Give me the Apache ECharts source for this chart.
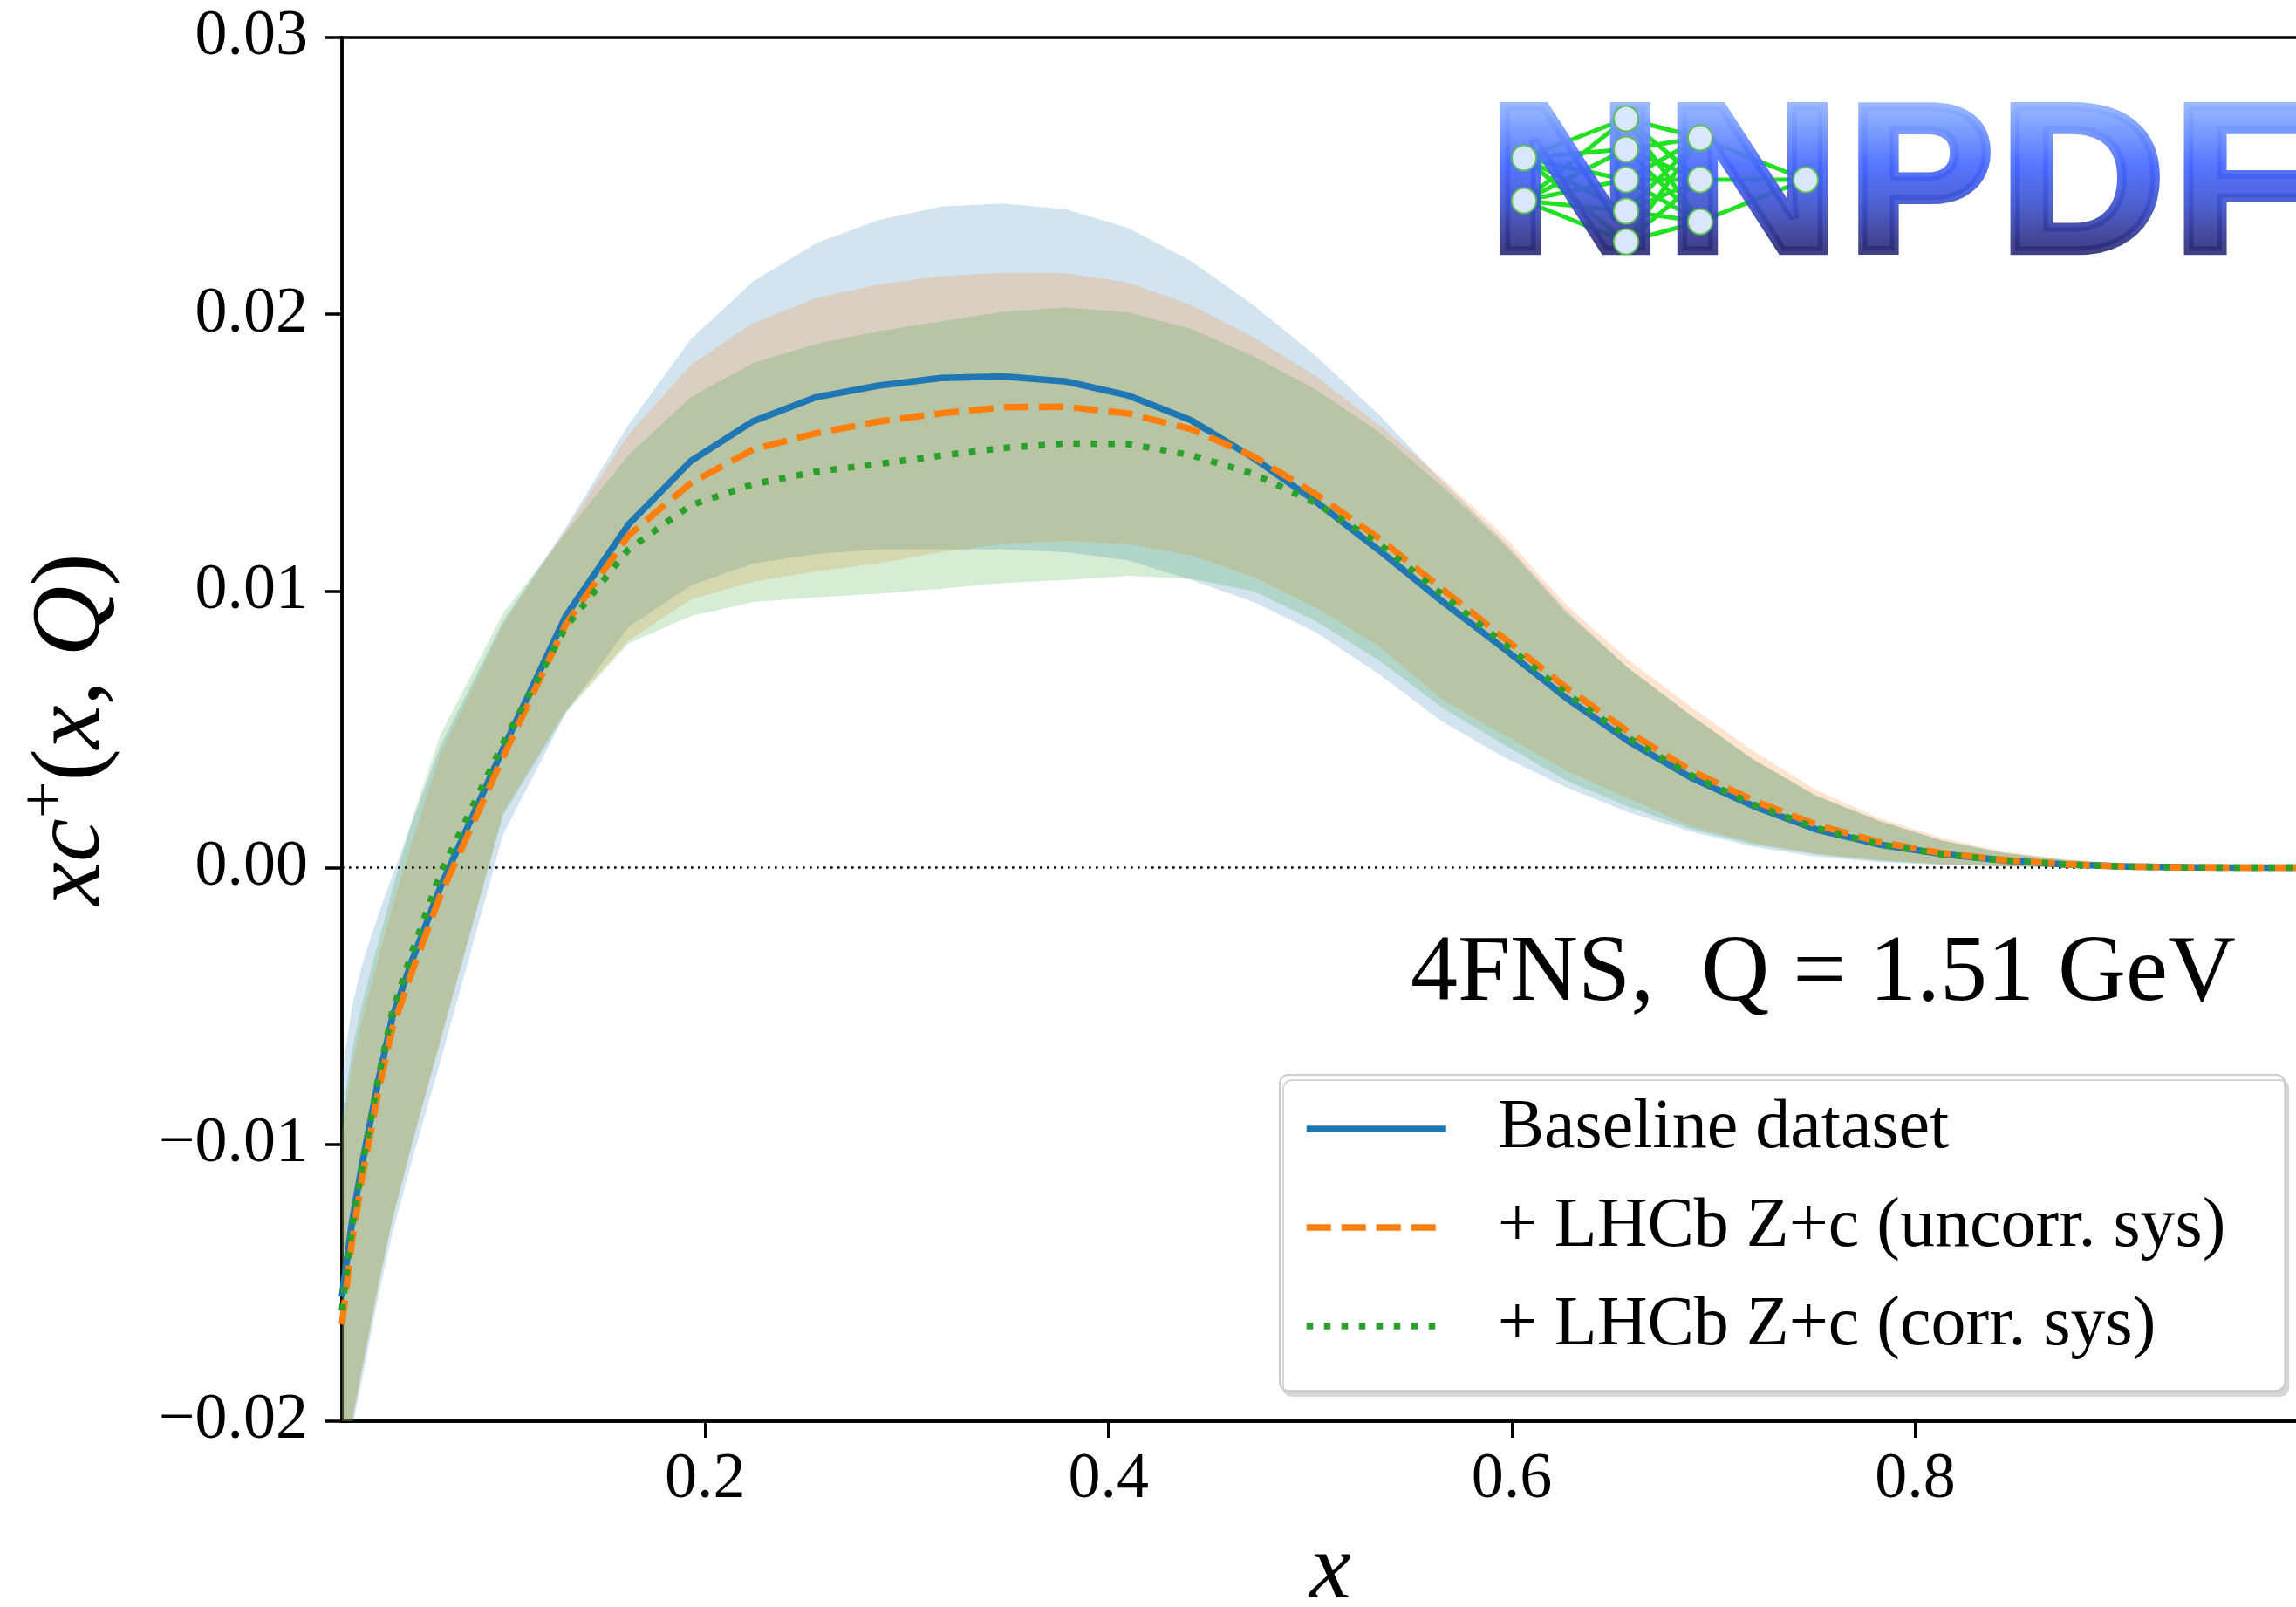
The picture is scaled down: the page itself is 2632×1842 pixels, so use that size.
<!DOCTYPE html>
<html>
<head>
<meta charset="utf-8">
<script src="https://cdn.jsdelivr.net/npm/echarts@6/dist/echarts.min.js"></script>
<style>
html,body{margin:0;padding:0;background:#fff;}
#chart{width:2632px;height:1842px;}
</style>
</head>
<body>
<div id="chart"></div>
<script>
// ---------------- data ----------------
const xGrid = [0.02, 0.025, 0.03, 0.038, 0.045, 0.055, 0.0688, 0.0999, 0.131, 0.162, 0.193, 0.224, 0.255, 0.286, 0.317, 0.348, 0.379, 0.410, 0.441, 0.472, 0.503, 0.534, 0.565, 0.596, 0.627, 0.658, 0.689, 0.720, 0.751, 0.782, 0.813, 0.844, 0.875, 0.906, 0.937, 0.968, 1.0];

const baselineCentral = [-0.0155, -0.0128, -0.0107, -0.0077, -0.0054, -0.0033, -0.0007, 0.0043, 0.0091, 0.0124, 0.0147, 0.01614, 0.0170, 0.01742, 0.0177, 0.01775, 0.01757, 0.01706, 0.01617, 0.0148, 0.01322, 0.01148, 0.00965, 0.00792, 0.00613, 0.00456, 0.00325, 0.00222, 0.00138, 0.00084, 0.0005, 0.00026, 0.00011, 0.00004, 0.00001, 0, 0];
const baselineUpper = [-0.0075, -0.0050, -0.0035, -0.0017, -0.0003, 0.0017, 0.0044, 0.0089, 0.0123, 0.0160, 0.0191, 0.0212, 0.02256, 0.0234, 0.02389, 0.0240, 0.02379, 0.02311, 0.02192, 0.02032, 0.01848, 0.01638, 0.0140, 0.0118, 0.0093, 0.0072, 0.0055, 0.0039, 0.0026, 0.0017, 0.0010, 0.00054, 0.00028, 0.00012, 0.00005, 0.00001, 0];
const baselineLower = [-0.0225, -0.0203, -0.0185, -0.0155, -0.0132, -0.0105, -0.0070, 0.0012, 0.0056, 0.0087, 0.0102, 0.0110, 0.01134, 0.0115, 0.0115, 0.0115, 0.0114, 0.0111, 0.0104, 0.0096, 0.0085, 0.0070, 0.0053, 0.0040, 0.0029, 0.0020, 0.0013, 0.00075, 0.0004, 0.0002, 0.0001, 0.00004, 0.00001, 0, 0, 0, 0];

const uncorrCentral = [-0.0165, -0.0135, -0.0112, -0.0081, -0.0058, -0.0037, -0.0010, 0.0040, 0.0088, 0.0120, 0.0139, 0.01512, 0.0157, 0.01612, 0.01642, 0.01664, 0.01666, 0.01641, 0.01585, 0.01486, 0.01349, 0.01191, 0.0101, 0.0083, 0.0065, 0.0049, 0.0035, 0.00242, 0.00155, 0.00093, 0.00053, 0.00028, 0.00012, 0.00004, 0.00001, 0, 0];
const uncorrUpper = [-0.0095, -0.0072, -0.0055, -0.0033, -0.0014, 0.0010, 0.0041, 0.0088, 0.0122, 0.01565, 0.01817, 0.01969, 0.02058, 0.02108, 0.02137, 0.0215, 0.02148, 0.02114, 0.02034, 0.01916, 0.01775, 0.01601, 0.0141, 0.0120, 0.0095, 0.0075, 0.0058, 0.0042, 0.0028, 0.0018, 0.00108, 0.00058, 0.0003, 0.00013, 0.00005, 0.00001, 0];
const uncorrLower = [-0.0222, -0.0200, -0.0181, -0.0151, -0.0127, -0.0099, -0.0063, 0.0020, 0.0057, 0.0082, 0.0097, 0.01034, 0.01071, 0.0110, 0.0114, 0.0117, 0.0118, 0.01168, 0.01128, 0.0105, 0.0094, 0.0080, 0.0061, 0.0048, 0.0035, 0.0025, 0.0015, 0.0009, 0.0005, 0.00028, 0.00013, 0.00005, 0.00002, 0, 0, 0, 0];

const corrCentral = [-0.0160, -0.0130, -0.0108, -0.0076, -0.0052, -0.0030, -0.0002, 0.0045, 0.0087, 0.0115, 0.0131, 0.01386, 0.01431, 0.01459, 0.01489, 0.01517, 0.01533, 0.01531, 0.01491, 0.01423, 0.01317, 0.01171, 0.0099, 0.0081, 0.0063, 0.00468, 0.00333, 0.00228, 0.00143, 0.00085, 0.00049, 0.00026, 0.00011, 0.00004, 0.00001, 0, 0];
const corrUpper = [-0.0090, -0.0066, -0.0049, -0.0027, -0.0008, 0.0018, 0.0048, 0.0092, 0.0121, 0.01491, 0.01701, 0.01824, 0.01893, 0.01938, 0.01975, 0.02009, 0.02025, 0.02006, 0.01948, 0.01848, 0.01727, 0.01575, 0.0138, 0.0117, 0.0092, 0.0072, 0.0055, 0.0039, 0.0026, 0.0017, 0.00098, 0.00052, 0.00027, 0.00011, 0.00004, 0.00001, 0];
const corrLower = [-0.0222, -0.0200, -0.0181, -0.0151, -0.0127, -0.0099, -0.0062, 0.0019, 0.0056, 0.0081, 0.0091, 0.0096, 0.00977, 0.0099, 0.01008, 0.01029, 0.0104, 0.01055, 0.01044, 0.0100, 0.0089, 0.0075, 0.0058, 0.00445, 0.00315, 0.0022, 0.0014, 0.00084, 0.00048, 0.00025, 0.00012, 0.00005, 0.00002, 0, 0, 0, 0];

const seriesNames = ['Baseline dataset', '+ LHCb Z+c (uncorr. sys)', '+ LHCb Z+c (corr. sys)'];
const xTickValues = [0.2, 0.4, 0.6, 0.8, 1.0];
const xLabelValues = [0.2, 0.4, 0.6, 0.8];
const annotationText = '4FNS,  Q = 1.51 GeV';
const logoText = ['N', 'N', 'P', 'D', 'F'];

// ---------------- styles ----------------
const FONT = '"Liberation Serif", "Times New Roman", serif';
const C_BLUE = '#1f77b4', C_ORANGE = '#ff7f0e', C_GREEN = '#2ca02c';

function pairs(ys) { return xGrid.map((x, i) => [x, ys[i]]); }

function band(name, lo, hi, color) {
  return {
    name: name, type: 'custom', silent: true, clip: true, z: 1,
    data: xGrid.map((x, i) => [x, lo[i], hi[i]]),
    encode: { x: 0, y: [1, 2] },
    renderItem: function (params, api) {
      if (params.dataIndex !== 0) return null;
      const pts = [];
      for (let i = 0; i < xGrid.length; i++) pts.push(api.coord([xGrid[i], hi[i]]));
      for (let i = xGrid.length - 1; i >= 0; i--) pts.push(api.coord([xGrid[i], lo[i]]));
      const cs = params.coordSys;
      return {
        type: 'polygon', shape: { points: pts }, style: { fill: color, stroke: null },
        clipPath: { type: 'rect', shape: { x: cs.x, y: cs.y, width: cs.width, height: cs.height } }
      };
    }
  };
}

function centralLine(name, ys, color, type, extra) {
  return Object.assign({
    name: name, type: 'line', data: pairs(ys), symbol: 'none', showSymbol: false,
    itemStyle: { color: color },
    lineStyle: { color: color, width: 7.5, type: type, cap: 'butt', join: 'round' },
    z: 5
  }, extra || {});
}

// ---------------- NNPDF logo (decoration) ----------------
const logoLetterCenters = [1806, 2009, 2202, 2387, 2572];
const logoLetterScale = [1.14, 1.14, 1.04, 1.09, 1.10];
const nnLayers = [
  [[1747, 181], [1747, 230]],
  [[1864, 136], [1864, 171], [1864, 206], [1864, 242], [1864, 277]],
  [[1949, 158], [1949, 206], [1949, 254]],
  [[2070, 206]]
];
const logoElements = [];
for (let l = 0; l < nnLayers.length - 1; l++) {
  nnLayers[l].forEach(a => nnLayers[l + 1].forEach(b => {
    logoElements.push({ type: 'line', z: 100, silent: true,
      shape: { x1: a[0], y1: a[1], x2: b[0], y2: b[1] },
      style: { stroke: '#22e022', lineWidth: 5 } });
  }));
}
logoText.forEach((ch, i) => {
  logoElements.push({ type: 'text', zlevel: 1, z: 1, silent: true,
    x: logoLetterCenters[i], y: 221, scaleX: logoLetterScale[i], scaleY: 1,
    style: { text: ch, fontFamily: '"Liberation Sans", Arial, sans-serif', fontWeight: 'bold',
      fontSize: 240, fill: '#4a66f5', stroke: '#4a66f5', lineWidth: 10,
      align: 'center', verticalAlign: 'middle', opacity: 0.9 } });
});
// gradient painted only onto the letters (source-atop on the logo layer)
logoElements.push({ type: 'rect', zlevel: 1, z: 2, silent: true,
  shape: { x: 1690, y: 110, width: 942, height: 200 },
  style: {
    blend: 'source-atop',
    fill: new echarts.graphic.LinearGradient(0, 0, 0, 1, [
      { offset: 0.00, color: '#9cbaff' },
      { offset: 0.12, color: '#7ea2ff' },
      { offset: 0.40, color: '#4466ff' },
      { offset: 0.62, color: '#3a50cc' },
      { offset: 0.85, color: '#2e2e80' },
      { offset: 1.00, color: '#262660' }
    ])
  } });
nnLayers.forEach(layer => layer.forEach(p => {
  logoElements.push({ type: 'ellipse', zlevel: 1, z: 3, silent: true,
    shape: { cx: p[0], cy: p[1], rx: 14, ry: 14.5 },
    style: { fill: '#d9e6fb', stroke: '#5cbf5c', lineWidth: 2 } });
}));

// ---------------- chart ----------------
const chart = echarts.init(document.getElementById('chart'), null, { renderer: 'canvas', width: 2632, height: 1842 });

const option = {
  animation: false,
  backgroundColor: '#ffffff',
  grid: {
    left: 392, right: -26, top: 43, bottom: 213,
    show: true, borderColor: '#000', borderWidth: 3.5, backgroundColor: 'transparent',
    containLabel: false, outerBoundsMode: 'none'
  },
  xAxis: {
    type: 'value', min: 0.02, max: 1.0,
    axisLine: { show: true, onZero: false, lineStyle: { color: '#000', width: 3.5 } },
    axisTick: { show: true, inside: false, length: 19, customValues: xTickValues, lineStyle: { color: '#000', width: 3 } },
    axisLabel: { show: true, customValues: xLabelValues, formatter: v => v.toFixed(1),
      fontFamily: FONT, fontSize: 74, lineHeight: 74, color: '#000', margin: 31 },
    splitLine: { show: false },
    name: 'x', nameLocation: 'middle', nameGap: 120,
    nameTextStyle: { fontFamily: FONT, fontStyle: 'italic', fontSize: 108, lineHeight: 108, color: '#000' }
  },
  yAxis: {
    type: 'value', min: -0.02, max: 0.03, interval: 0.01,
    axisLine: { show: true, onZero: false, lineStyle: { color: '#000', width: 3.5 } },
    axisTick: { show: true, inside: false, length: 20, lineStyle: { color: '#000', width: 3.5 } },
    axisLabel: { show: true, formatter: v => (v < -1e-9 ? '\u2212' : '') + Math.abs(v).toFixed(2),
      fontFamily: FONT, fontSize: 74, color: '#000', margin: 39 },
    splitLine: { show: false },
    name: '{i|xc}{s|+}{n|(}{i|x}{n|, }{i|Q}{n|)}',
    nameLocation: 'middle', nameRotate: 90, nameGap: 240,
    nameTextStyle: {
      fontFamily: FONT, fontSize: 112, color: '#000',
      rich: {
        i: { fontFamily: FONT, fontStyle: 'italic', fontSize: 112, lineHeight: 136, color: '#000' },
        n: { fontFamily: FONT, fontSize: 112, lineHeight: 136, color: '#000' },
        s: { fontFamily: FONT, fontSize: 76, lineHeight: 76, verticalAlign: 'top', color: '#000' }
      }
    }
  },
  legend: {
    data: seriesNames,
    orient: 'vertical', left: 1467, top: 1232,
    padding: [22, 68, 34, 27],
    itemWidth: 160, itemHeight: 1, itemGap: 33,
    backgroundColor: '#ffffff', borderColor: '#cccccc', borderWidth: 2, borderRadius: 10,
    shadowColor: '#d6d6d6', shadowOffsetX: 4, shadowOffsetY: 6, shadowBlur: 0,
    selectedMode: false,
    lineStyle: { width: 7.5, type: 'inherit', cap: 'butt' },
    textStyle: { fontFamily: FONT, fontSize: 80, lineHeight: 80, color: '#000', padding: [0, 0, 0, 54] }
  },
  graphic: [
    { type: 'text', z: 100, silent: true, x: 2563, y: 1118,
      style: { text: annotationText, fontFamily: FONT, fontSize: 108, fill: '#000',
        align: 'right', verticalAlign: 'middle' } }
  ].concat(logoElements),
  series: [
    band('baselineBand', baselineLower, baselineUpper, 'rgba(31,119,180,0.2)'),
    band('uncorrBand', uncorrLower, uncorrUpper, 'rgba(255,127,14,0.2)'),
    band('corrBand', corrLower, corrUpper, 'rgba(44,160,44,0.2)'),
    centralLine(seriesNames[0], baselineCentral, C_BLUE, 'solid', {
      markLine: { silent: true, symbol: ['none', 'none'], label: { show: false },
        lineStyle: { color: '#000', width: 2.5, type: [2.6, 5.4] },
        emphasis: { disabled: true }, data: [{ yAxis: 0 }], z: 3 }
    }),
    centralLine(seriesNames[1], uncorrCentral, C_ORANGE, [28, 12]),
    centralLine(seriesNames[2], corrCentral, C_GREEN, [7.5, 12.5])
  ]
};
chart.setOption(option);
</script>
</body>
</html>
